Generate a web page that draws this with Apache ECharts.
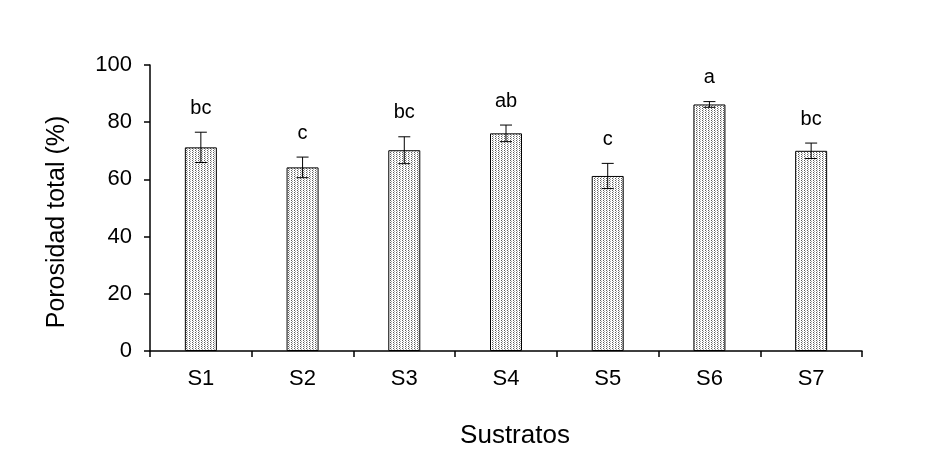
<!DOCTYPE html>
<html>
<head>
<meta charset="utf-8">
<script src="https://cdn.jsdelivr.net/npm/echarts@6/dist/echarts.min.js"></script>
<style>
html, body { margin: 0; padding: 0; background: #fff; }
#chart { width: 925px; height: 462px; }
</style>
</head>
<body>
<div id="chart"></div>
<script>
// data
var sustratos = ['S1', 'S2', 'S3', 'S4', 'S5', 'S6', 'S7'];
var porosidad = [71.2, 64.2, 70.2, 76.1, 61.2, 86.2, 70.0];
var errores   = [5.3, 3.6, 4.7, 2.9, 4.4, 1.0, 2.7];
var letras    = ['bc', 'c', 'bc', 'ab', 'c', 'a', 'bc'];

// small dotted fill like the original
var pat = document.createElement('canvas');
pat.width = 3; pat.height = 2;
var ctx = pat.getContext('2d');
ctx.fillStyle = '#ffffff';
ctx.fillRect(0, 0, 3, 2);
ctx.fillStyle = '#5e5e5e';
ctx.fillRect(0, 0, 1, 1);
ctx.fillStyle = '#a8a8a8';
ctx.fillRect(1, 1, 1, 1);

var errData = sustratos.map(function (s, i) {
  return [i, porosidad[i] + errores[i], porosidad[i] - errores[i], letras[i]];
});

var myChart = echarts.init(document.getElementById('chart'));

var option = {
  backgroundColor: '#fff',
  animation: false,
  grid: { left: 150, right: 63, top: 65, bottom: 111 },
  xAxis: {
    type: 'category',
    data: sustratos,
    name: 'Sustratos',
    nameLocation: 'middle',
    nameGap: 72,
    nameTextStyle: { fontFamily: 'Liberation Sans', fontSize: 26, color: '#000', padding: [0, 0, 0, 18] },
    axisLine: { lineStyle: { color: '#000', width: 1.5 } },
    axisTick: { show: true, length: 6, lineStyle: { color: '#000', width: 1.5 } },
    axisLabel: { fontFamily: 'Liberation Sans', fontSize: 22, color: '#000', margin: 17 }
  },
  yAxis: {
    type: 'value',
    min: 0,
    max: 100,
    interval: 20,
    name: 'Porosidad total (%)',
    nameLocation: 'middle',
    nameGap: 80,
    nameTextStyle: { fontFamily: 'Liberation Sans', fontSize: 25, color: '#000', padding: [0, 28, 0, 0] },
    axisLine: { show: true, lineStyle: { color: '#000', width: 1.5 } },
    axisTick: { show: true, length: 6, lineStyle: { color: '#000', width: 1.5 } },
    axisLabel: { fontFamily: 'Liberation Sans', fontSize: 22, color: '#000', margin: 18 },
    splitLine: { show: false }
  },
  series: [
    {
      type: 'bar',
      data: porosidad,
      barWidth: 32,
      itemStyle: {
        color: { image: pat, repeat: 'repeat' },
        borderColor: '#000',
        borderWidth: 1
      }
    },
    {
      type: 'custom',
      data: errData,
      z: 10,
      renderItem: function (params, api) {
        var x = api.value(0);
        var top = api.coord([x, api.value(1)]);
        var bot = api.coord([x, api.value(2)]);
        var hw = 6;
        return {
          type: 'group',
          children: [
            { type: 'line', shape: { x1: top[0], y1: top[1], x2: bot[0], y2: bot[1] },
              style: { stroke: '#000', lineWidth: 1 } },
            { type: 'line', shape: { x1: top[0] - hw, y1: top[1], x2: top[0] + hw, y2: top[1] },
              style: { stroke: '#000', lineWidth: 1 } },
            { type: 'line', shape: { x1: bot[0] - hw, y1: bot[1], x2: bot[0] + hw, y2: bot[1] },
              style: { stroke: '#000', lineWidth: 1 } },
            { type: 'text', x: top[0], y: top[1] - 24,
              style: { text: api.value(3), fill: '#000', font: '20px "Liberation Sans"',
                       align: 'center', verticalAlign: 'middle' } }
          ]
        };
      }
    }
  ]
};

myChart.setOption(option);
</script>
</body>
</html>
